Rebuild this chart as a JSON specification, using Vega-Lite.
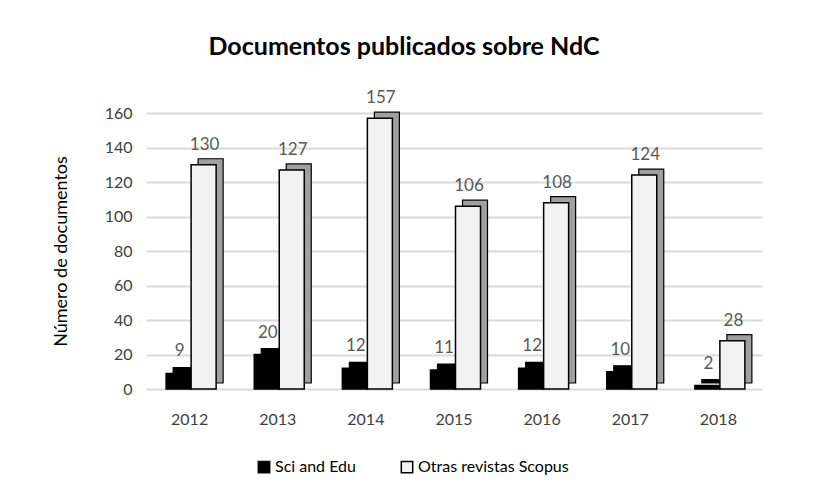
{
  "$schema": "https://vega.github.io/schema/vega-lite/v6.json",
  "width": 616,
  "height": 276,
  "autosize": {"type": "none"},
  "padding": {"left": 146, "top": 113, "right": 52, "bottom": 108},
  "background": "white",
  "title": {
    "text": "Documentos publicados sobre NdC",
    "font": "Lato",
    "fontSize": 25,
    "fontWeight": "bold",
    "color": "#000000",
    "anchor": "middle",
    "dx": -50,
    "offset": 29
  },
  "config": {
    "view": {"stroke": null},
    "font": "Lato"
  },
  "data": {
    "values": [
      {"year": "2012", "serie": "Sci and Edu", "value": 9},
      {"year": "2012", "serie": "Otras revistas Scopus", "value": 130},
      {"year": "2013", "serie": "Sci and Edu", "value": 20},
      {"year": "2013", "serie": "Otras revistas Scopus", "value": 127},
      {"year": "2014", "serie": "Sci and Edu", "value": 12},
      {"year": "2014", "serie": "Otras revistas Scopus", "value": 157},
      {"year": "2015", "serie": "Sci and Edu", "value": 11},
      {"year": "2015", "serie": "Otras revistas Scopus", "value": 106},
      {"year": "2016", "serie": "Sci and Edu", "value": 12},
      {"year": "2016", "serie": "Otras revistas Scopus", "value": 108},
      {"year": "2017", "serie": "Sci and Edu", "value": 10},
      {"year": "2017", "serie": "Otras revistas Scopus", "value": 124},
      {"year": "2018", "serie": "Sci and Edu", "value": 2},
      {"year": "2018", "serie": "Otras revistas Scopus", "value": 28}
    ]
  },
  "encoding": {
    "x": {
      "field": "year",
      "type": "nominal",
      "scale": {"paddingInner": 0.45, "paddingOuter": 0.22},
      "axis": {
        "title": null,
        "labelAngle": 0,
        "labelFont": "Lato",
        "labelFontSize": 16,
        "labelColor": "#404040",
        "labelPadding": 22,
        "domain": false,
        "ticks": false
      }
    },
    "y": {
      "field": "value",
      "type": "quantitative",
      "scale": {"domain": [0, 160]},
      "axis": {
        "title": "Número de documentos",
        "titleFont": "Lato",
        "titleFontSize": 18,
        "titleFontWeight": "normal",
        "titleColor": "#000000",
        "titlePadding": 34,
        "labelFont": "Lato",
        "labelFontSize": 16,
        "labelColor": "#404040",
        "labelPadding": 14,
        "labelOverlap": false,
        "values": [0, 20, 40, 60, 80, 100, 120, 140, 160],
        "domain": false,
        "ticks": false,
        "grid": true,
        "gridColor": "#d9d9d9",
        "gridWidth": 2
      }
    }
  },
  "layer": [
    {
      "transform": [{"filter": "datum.serie === 'Sci and Edu'"}],
      "mark": {"type": "bar", "width": 25, "xOffset": -4, "yOffset": -6, "fill": "#000000", "stroke": "#000000", "strokeWidth": 1.2}
    },
    {
      "transform": [{"filter": "datum.serie === 'Sci and Edu'"}],
      "mark": {"type": "bar", "width": 25, "xOffset": -11, "stroke": "#000000", "strokeWidth": 1.5},
      "encoding": {
        "color": {
          "field": "serie",
          "type": "nominal",
          "scale": {"domain": ["Sci and Edu", "Otras revistas Scopus"], "range": ["#000000", "#f2f2f2"]},
          "legend": {
            "title": null,
            "orient": "none",
            "direction": "horizontal",
            "legendX": 110,
            "legendY": 346,
            "symbolType": "square",
            "symbolSize": 130,
            "symbolStrokeColor": "#000000",
            "symbolStrokeWidth": 1.5,
            "labelFont": "Lato",
            "labelFontSize": 16,
            "labelColor": "#000000",
            "columnPadding": 42,
            "labelOffset": 3
          }
        }
      }
    },
    {
      "transform": [{"filter": "datum.serie === 'Otras revistas Scopus'"}],
      "mark": {"type": "bar", "width": 25, "xOffset": 21, "yOffset": -6, "fill": "#a0a0a0", "stroke": "#000000", "strokeWidth": 1.2}
    },
    {
      "transform": [{"filter": "datum.serie === 'Otras revistas Scopus'"}],
      "mark": {"type": "bar", "width": 25, "xOffset": 14, "stroke": "#000000", "strokeWidth": 1.5},
      "encoding": {
        "color": {"field": "serie", "type": "nominal"}
      }
    },
    {
      "transform": [{"filter": "datum.serie === 'Sci and Edu'"}],
      "mark": {"type": "text", "dy": -17, "dx": -10, "fontSize": 17, "font": "Lato", "color": "#595959", "baseline": "alphabetic"},
      "encoding": {
        "text": {"field": "value", "type": "quantitative"}
      }
    },
    {
      "transform": [{"filter": "datum.serie === 'Otras revistas Scopus'"}],
      "mark": {"type": "text", "dy": -15, "dx": 15, "fontSize": 17, "font": "Lato", "color": "#595959", "baseline": "alphabetic"},
      "encoding": {
        "text": {"field": "value", "type": "quantitative"}
      }
    }
  ]
}
